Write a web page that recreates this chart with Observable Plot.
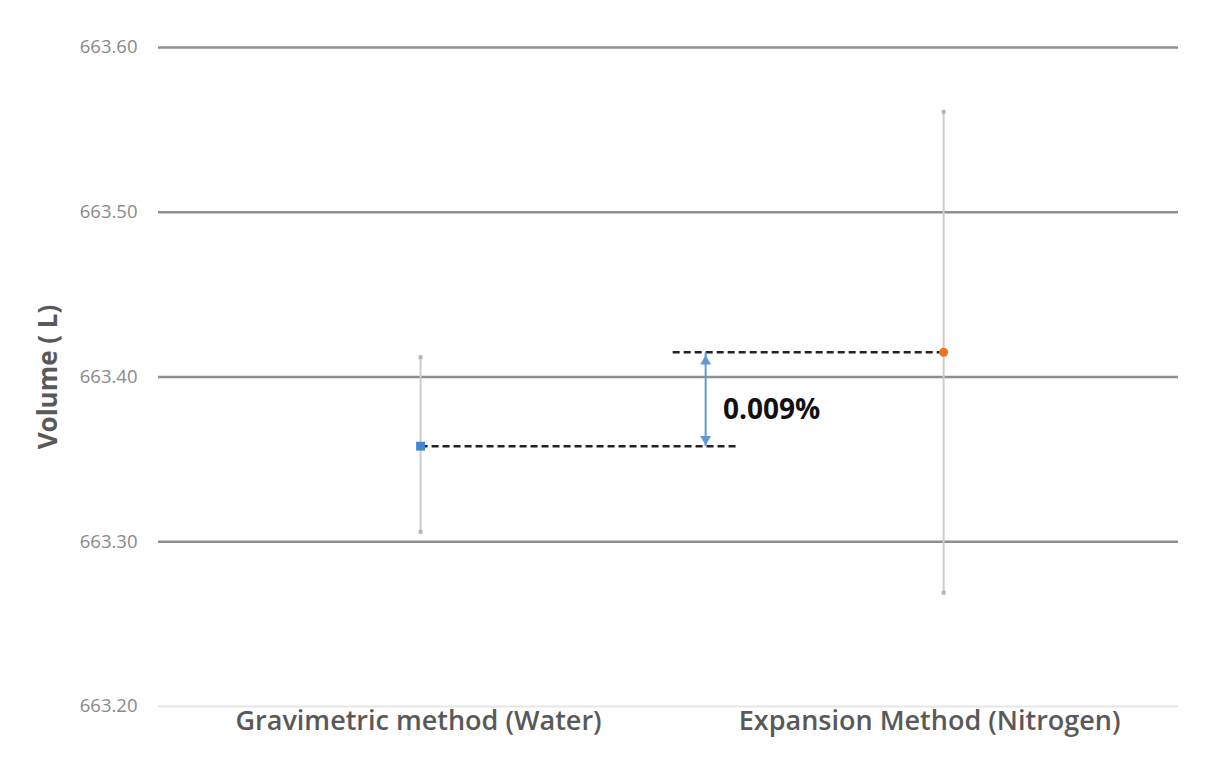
<!DOCTYPE html>
<html>
<head>
<meta charset="utf-8">
<script src="https://cdn.jsdelivr.net/npm/d3@7"></script>
<script src="https://cdn.jsdelivr.net/npm/@observablehq/plot@0.6"></script>
<style>
  html, body { margin: 0; padding: 0; background: #fff; }
  #chart { width: 1209px; height: 779px; }
</style>
</head>
<body>
<div id="chart"></div>
<script>
// ---- data ----
const categories = ["Gravimetric method (Water)", "Expansion Method (Nitrogen)"];
const categoryIndex = [0, 1];
const volumes = [663.358, 663.415];
const errLow = [663.306, 663.269];
const errHigh = [663.412, 663.561];
const yTicks = [663.20, 663.30, 663.40, 663.50, 663.60];
const gridTicks = [663.30, 663.40, 663.50, 663.60];
const diffLabel = "0.009%";
const yLabel = "Volume ( L)";

const rows = categories.map((c, i) => ({
  cat: c, x: categoryIndex[i], v: volumes[i], lo: errLow[i], hi: errHigh[i]
}));
const water = rows[0], nitrogen = rows[1];

// annotation positions (in x-scale units between the two categories)
const dashWaterEnd = 0.606;
const dashNitroStart = 0.482;
const arrowX = 0.545;
const labelX = 0.578;

const font = "'Open Sans', 'DejaVu Sans', sans-serif";
const caps = rows.flatMap(r => [{x: r.x, y: r.lo}, {x: r.x, y: r.hi}]);
const catLabel = (r, dx) => Plot.text([r], {
  x: "x", text: "cat", frameAnchor: "bottom", dy: 23, dx,
  fontSize: 27, fontWeight: 600, fill: "#595959"
});

const chart = Plot.plot({
  width: 1209,
  height: 779,
  marginTop: 47,
  marginBottom: 73,
  marginLeft: 158,
  marginRight: 31,
  style: { fontFamily: font, background: "#fff" },
  x: { type: "linear", domain: [-0.501, 1.449], axis: null },
  y: { type: "linear", domain: [663.20, 663.60], axis: null },
  marks: [
    Plot.ruleY([663.20], { stroke: "#e6e6e6", strokeWidth: 2 }),
    Plot.ruleY(gridTicks, { stroke: "#8f8f8f", strokeWidth: 2.5 }),
    Plot.axisY({
      ticks: yTicks, tickSize: 0, tickPadding: 21,
      tickFormat: d => d.toFixed(2), fontSize: 18.5, color: "#8a8a8a",
      label: null
    }),
    Plot.text([yLabel], {
      frameAnchor: "left", textAnchor: "middle", dx: -110, rotate: -90,
      fontSize: 26, fontWeight: 700, fill: "#595959"
    }),
    catLabel(water, -2),
    catLabel(nitrogen, -14),
    // error bars
    Plot.ruleX(rows, { x: "x", y1: "lo", y2: "hi", stroke: "#cdcdcd", strokeWidth: 2 }),
    Plot.dot(caps, { x: "x", y: "y", symbol: "square", r: 2.2, fill: "#b5b5b5" }),
    // dashed reference lines
    Plot.link([water], { x1: "x", x2: () => dashWaterEnd, y1: "v", y2: "v",
      stroke: "#222", strokeWidth: 2.5, strokeDasharray: "7,4" }),
    Plot.link([nitrogen], { x1: () => dashNitroStart, x2: "x", y1: "v", y2: "v",
      stroke: "#222", strokeWidth: 2.5, strokeDasharray: "7,4" }),
    // double-headed arrow
    Plot.link([{x: arrowX, y1: water.v, y2: nitrogen.v}], { x1: "x", x2: "x", y1: "y1", y2: "y2",
      stroke: "#5b9bd5", strokeWidth: 2 }),
    Plot.dot([{x: arrowX, y: nitrogen.v}], { x: "x", y: "y", symbol: "triangle", r: 4,
      fill: "#5b9bd5", dy: 9 }),
    Plot.dot([{x: arrowX, y: water.v}], { x: "x", y: "y", symbol: "triangle", r: 4,
      fill: "#5b9bd5", rotate: 180, dy: -7 }),
    Plot.text([{x: labelX, y: (water.v + nitrogen.v) / 2, t: diffLabel}], { x: "x", y: "y", text: "t",
      textAnchor: "start", fontSize: 28, fontWeight: 700, fill: "#111", dy: 11 }),
    // points
    Plot.dot([water], { x: "x", y: "v", symbol: "square", r: 5, fill: "#3f86d4" }),
    Plot.dot([nitrogen], { x: "x", y: "v", symbol: "circle", r: 4.5, fill: "#f07320" })
  ]
});
document.getElementById("chart").appendChild(chart);
</script>
</body>
</html>
